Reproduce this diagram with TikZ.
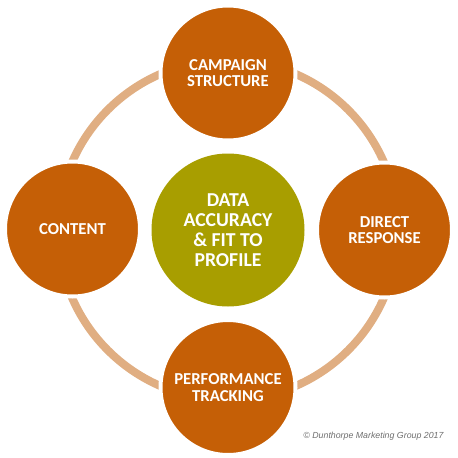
\documentclass[tikz,border=0pt]{standalone}
\usepackage{fontspec}
\setmainfont{Carlito}
\newfontfamily\copyfont{Liberation Sans}
\definecolor{orangeC}{RGB}{197,95,6}
\definecolor{oliveC}{RGB}{168,158,0}
\definecolor{ringC}{RGB}{224,174,130}
\definecolor{grayC}{RGB}{110,110,110}
\tikzset{
  outerc/.style={circle, fill=orangeC, draw=white, line width=4pt, minimum size=135pt, inner sep=0pt,
     text=white, align=center, font=\bfseries\fontsize{16.7}{16.7}\selectfont},
  centerc/.style={circle, fill=oliveC, minimum size=153pt, inner sep=0pt,
     text=white, align=center, font=\bfseries\fontsize{19.7}{20}\selectfont},
  ringline/.style={draw=ringC, line width=8pt}
}
\begin{document}
\begin{tikzpicture}[x=1pt,y=-1pt]
\useasboundingbox (0,0) rectangle (458,458);
\coordinate (ctr) at (228,230);
\draw[ringline] (ctr) circle (170);
\node[centerc] (data) at (228,230) {DATA\\ACCURACY\\\&~FIT TO\\PROFILE};
\node[outerc] (camp) at (228,73) {CAMPAIGN\\STRUCTURE};
\node[outerc] (direct) at (384.5,230) {DIRECT\\RESPONSE};
\node[outerc] (perf) at (228,387.5) {PERFORMANCE\\TRACKING};
\node[outerc] (content) at (72.5,229) {CONTENT};
\node[anchor=base east, text=grayC, font=\copyfont\itshape\fontsize{8.8}{10}\selectfont] (copy) at (447,438) {© Dunthorpe Marketing Group 2017};
\end{tikzpicture}
\end{document}
